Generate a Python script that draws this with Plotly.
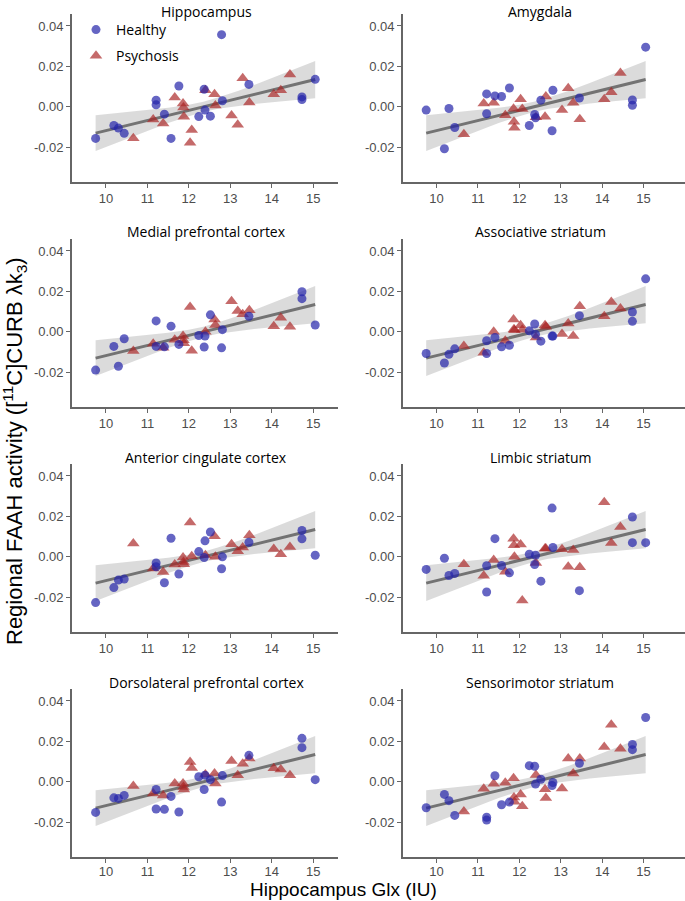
import plotly.graph_objects as go

# ---------------- data ----------------
regions = ["Hippocampus", "Amygdala",
           "Medial prefrontal cortex", "Associative striatum",
           "Anterior cingulate cortex", "Limbic striatum",
           "Dorsolateral prefrontal cortex", "Sensorimotor striatum"]

glx_healthy = [9.75, 10.19, 10.30, 10.44, 11.21, 11.21, 11.41, 11.57, 11.76, 12.24,
               12.37, 12.39, 12.52, 12.81, 12.79, 13.45, 14.73, 14.73, 15.05]
glx_psychosis = [10.66, 11.14, 11.38, 11.66, 11.86, 11.87, 11.88, 12.03, 12.07, 12.40,
                 12.62, 12.64, 13.03, 13.18, 13.30, 13.46, 14.05, 14.22, 14.44]

hippocampus_h = [-0.0156, -0.0092, -0.0105, -0.0131, 0.0033, 0.0010, -0.0036, -0.0156, 0.0103, -0.0048,
                 0.0087, -0.0016, -0.0046, 0.0030, 0.0357, 0.0111, 0.0049, 0.0036, 0.0136]
hippocampus_p = [-0.0155, -0.0062, -0.0082, 0.0046, 0.0016, -0.0003, -0.0049, -0.0177, -0.0115, 0.0082,
                 0.0062, 0.0007, -0.0043, -0.0089, 0.0141, 0.0021, 0.0062, 0.0082, 0.0160]

amygdala_h = [-0.0016, -0.0207, -0.0008, -0.0102, 0.0064, -0.0034, 0.0054, 0.0051, 0.0093, -0.0092,
              -0.0038, -0.0054, 0.0033, 0.0082, -0.0118, 0.0044, 0.0034, 0.0008, 0.0295]
amygdala_p = [-0.0136, 0.0016, 0.0020, -0.0041, -0.0010, -0.0074, -0.0103, 0.0038, -0.0011, -0.0052,
              -0.0049, 0.0051, -0.0016, 0.0092, 0.0020, -0.0061, 0.0038, 0.0072, 0.0167]

mpfc_h = [-0.0189, -0.0072, -0.0170, -0.0034, 0.0054, -0.0072, -0.0074, 0.0028, -0.0062, -0.0018,
          -0.0075, -0.0021, 0.0084, 0.0011, -0.0079, 0.0077, 0.0198, 0.0164, 0.0034]
mpfc_p = [-0.0095, -0.0059, -0.0079, -0.0039, -0.0021, -0.0041, -0.0056, 0.0123, -0.0093, 0.0000,
          0.0061, 0.0034, 0.0151, 0.0103, 0.0087, 0.0107, 0.0028, 0.0070, 0.0025]

assoc_h = [-0.0107, -0.0154, -0.0111, -0.0084, -0.0044, -0.0107, -0.0028, -0.0074, -0.0066, 0.0005,
           0.0039, -0.0012, -0.0046, -0.0021, -0.0021, 0.0080, 0.0098, 0.0052, 0.0262]
assoc_p = [-0.0070, -0.0103, 0.0000, -0.0044, 0.0061, 0.0013, 0.0008, 0.0033, 0.0010, -0.0028,
           0.0033, 0.0025, -0.0011, 0.0041, -0.0020, 0.0126, 0.0077, 0.0148, 0.0115]

acc_h = [-0.0226, -0.0152, -0.0115, -0.0110, -0.0030, -0.0049, -0.0128, 0.0092, -0.0085, 0.0026,
         -0.0003, 0.0079, 0.0123, 0.0000, -0.0059, 0.0072, 0.0130, 0.0089, 0.0008]
acc_p = [0.0066, -0.0057, -0.0075, -0.0038, -0.0003, -0.0025, -0.0036, 0.0170, 0.0003, 0.0008,
         0.0102, 0.0000, 0.0062, 0.0028, 0.0046, 0.0107, 0.0039, 0.0013, 0.0049]

limbic_h = [-0.0062, -0.0007, -0.0092, -0.0082, -0.0044, -0.0174, 0.0090, -0.0043, -0.0079, 0.0013,
            -0.0038, 0.0008, -0.0120, 0.0046, 0.0241, -0.0167, 0.0197, 0.0070, 0.0070]
limbic_p = [-0.0036, -0.0093, -0.0016, -0.0074, 0.0090, 0.0057, 0.0000, 0.0061, -0.0216, -0.0030,
            0.0041, 0.0041, 0.0038, -0.0049, 0.0034, -0.0052, 0.0270, 0.0069, 0.0148]

dlpfc_h = [-0.0151, -0.0079, -0.0082, -0.0067, -0.0038, -0.0134, -0.0136, -0.0072, -0.0149, 0.0025,
           -0.0038, 0.0033, 0.0011, 0.0031, -0.0100, 0.0131, 0.0215, 0.0169, 0.0011]
dlpfc_p = [-0.0020, -0.0057, -0.0067, -0.0008, -0.0008, -0.0025, -0.0038, 0.0098, 0.0069, 0.0036,
           0.0041, -0.0008, 0.0103, 0.0033, 0.0090, 0.0115, 0.0067, 0.0061, 0.0033]

sensori_h = [-0.0128, -0.0062, -0.0093, -0.0166, -0.0175, -0.0189, 0.0030, -0.0113, -0.0100, 0.0080,
             0.0077, -0.0011, 0.0013, -0.0003, -0.0018, 0.0092, 0.0185, 0.0159, 0.0318]
sensori_p = [-0.0146, -0.0034, -0.0010, -0.0005, 0.0018, -0.0077, -0.0098, -0.0062, -0.0120, 0.0034,
             -0.0036, -0.0080, -0.0033, 0.0115, 0.0041, 0.0116, 0.0172, 0.0282, 0.0164]

healthy_vals = [hippocampus_h, amygdala_h, mpfc_h, assoc_h, acc_h, limbic_h, dlpfc_h, sensori_h]
psychosis_vals = [hippocampus_p, amygdala_p, mpfc_p, assoc_p, acc_p, limbic_p, dlpfc_p, sensori_p]

# common fitted line and 95% confidence band
fit_x = [9.75, 10.5, 11.0, 11.5, 12.0, 12.35, 12.7, 13.2, 13.7, 14.2, 14.6, 15.05]
fit_y = [-0.0130, -0.00925, -0.00675, -0.00425, -0.00175, 0.0, 0.00175, 0.00425, 0.00675, 0.00925, 0.01125, 0.0135]
band_lo = [-0.0218, -0.0158, -0.0118, -0.0080, -0.0046, -0.0025, -0.0010, 0.0005, 0.0017, 0.0027, 0.0035, 0.0043]
band_hi = [-0.0042, -0.0027, -0.0017, -0.0005, 0.0010, 0.0025, 0.0046, 0.0080, 0.0118, 0.0158, 0.0190, 0.0227]

y_tickvals = [-0.02, 0.0, 0.02, 0.04]
y_ticktext = ["-0.02", "0.00", "0.02", "0.04"]
x_tickvals = [10, 11, 12, 13, 14, 15]

# ---------------- figure ----------------
W, H = 685, 901


def px_x(p):
    return p / W


def px_y(p):
    return 1 - p / H


fig = go.Figure()

col_px = [(72, 338), (403, 685)]
col_range = [[9.18, 15.6], [9.19, 16.0]]
row_top_px = [14, 239, 464, 689]
panel_h = 167.7
title_cx = [206.5, 540]
axis_color = "#666666"
tick_font = dict(family="Liberation Sans, Arial", size=13, color="#4d4d4d")
title_font = dict(family="Open Sans", size=14, color="black", weight="normal")

HEALTHY_COLOR = "rgba(35,35,170,0.70)"
PSYCH_COLOR = "rgba(170,35,35,0.68)"

annotations = []
for i, name in enumerate(regions):
    r, c = divmod(i, 2)
    k = i + 1
    xa = "x" if k == 1 else f"x{k}"
    ya = "y" if k == 1 else f"y{k}"
    fig.add_trace(go.Scatter(x=fit_x, y=band_lo, mode="lines", line=dict(width=0),
                             showlegend=False, hoverinfo="skip", xaxis=xa, yaxis=ya))
    fig.add_trace(go.Scatter(x=fit_x, y=band_hi, mode="lines", line=dict(width=0),
                             fill="tonexty", fillcolor="rgba(190,190,190,0.55)",
                             showlegend=False, hoverinfo="skip", xaxis=xa, yaxis=ya))
    fig.add_trace(go.Scatter(x=[fit_x[0], fit_x[-1]], y=[fit_y[0], fit_y[-1]], mode="lines",
                             line=dict(color="rgb(115,115,115)", width=3),
                             showlegend=False, hoverinfo="skip", xaxis=xa, yaxis=ya))
    fig.add_trace(go.Scatter(x=glx_psychosis, y=psychosis_vals[i], mode="markers",
                             marker=dict(symbol="triangle-up", size=11, color=PSYCH_COLOR,
                                         line=dict(width=0)),
                             name="Psychosis", legendgroup="p", showlegend=(i == 0),
                             xaxis=xa, yaxis=ya))
    fig.add_trace(go.Scatter(x=glx_healthy, y=healthy_vals[i], mode="markers",
                             marker=dict(symbol="circle", size=9, color=HEALTHY_COLOR,
                                         line=dict(width=0)),
                             name="Healthy", legendgroup="h", showlegend=(i == 0),
                             legendrank=1, xaxis=xa, yaxis=ya))

    x0, x1 = col_px[c]
    top = row_top_px[r]
    bot = top + panel_h
    xd = [px_x(x0), min(1.0, px_x(x1))]
    yd = [px_y(bot), px_y(top)]
    fig.layout[("xaxis" if k == 1 else f"xaxis{k}")] = dict(
        domain=xd, anchor=ya, range=col_range[c], showgrid=False, zeroline=False,
        showline=True, linecolor=axis_color, linewidth=1.6, ticks="outside", ticklen=4,
        tickcolor=axis_color, tickwidth=1.2, tickvals=x_tickvals, tickfont=tick_font,
        ticklabelstandoff=(-2 if r == 3 else 0))
    fig.layout[("yaxis" if k == 1 else f"yaxis{k}")] = dict(
        domain=yd, anchor=xa, range=[-0.037, 0.0459], showgrid=False, zeroline=False,
        showline=True, linecolor=axis_color, linewidth=1.6, ticks="outside", ticklen=4,
        tickcolor=axis_color, tickwidth=1.2, tickvals=y_tickvals, ticktext=y_ticktext,
        tickfont=tick_font)
    if r == 0:
        annotations.append(dict(text=name, xref="paper", yref="paper", x=px_x(title_cx[c]),
                                y=1.0, xanchor="center", yanchor="top",
                                showarrow=False, font=title_font))
    else:
        annotations.append(dict(text=name, xref="paper", yref="paper", x=px_x(title_cx[c]),
                                y=px_y(top - 7), xanchor="center", yanchor="middle",
                                showarrow=False, font=title_font))

annotations.append(dict(text="Hippocampus Glx (IU)", xref="paper", yref="paper",
                        x=px_x(343), y=0.0, xanchor="center", yanchor="bottom",
                        showarrow=False, borderpad=0,
                        font=dict(family="Liberation Sans, Arial", size=19, color="black")))
annotations.append(dict(text="Regional FAAH activity ([<sup>11</sup>C]CURB λk<sub>3</sub>)",
                        xref="paper", yref="paper", x=px_x(14), y=px_y(451),
                        xanchor="center", yanchor="middle", textangle=-90, showarrow=False,
                        font=dict(family="Liberation Sans, Arial", size=22, color="black")))

fig.update_layout(
    width=W, height=H, margin=dict(l=0, r=0, t=0, b=0),
    plot_bgcolor="white", paper_bgcolor="white",
    annotations=annotations,
    legend=dict(x=px_x(76), y=px_y(14), xanchor="left", yanchor="top",
                bgcolor="rgba(0,0,0,0)",
                font=dict(family="Open Sans", size=14, color="black"),
                traceorder="grouped", tracegroupgap=5, itemwidth=30),
)

fig.write_html("out.html", config={"displayModeBar": False},
               post_script="document.body.style.margin='0';")
